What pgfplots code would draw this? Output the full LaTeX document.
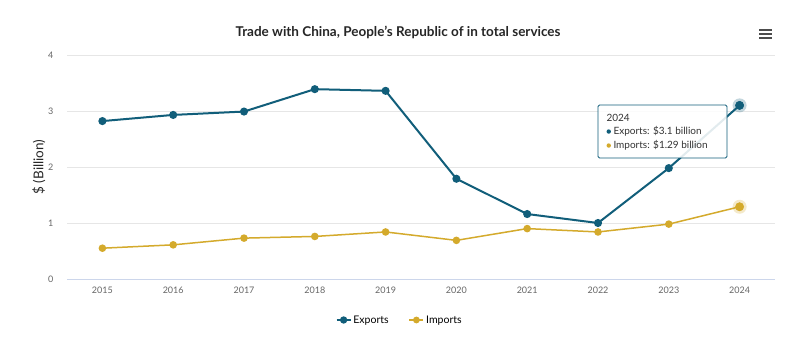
\documentclass[border=0pt]{standalone}
\usepackage{fontspec}
\setmainfont{Lato}
\usepackage{pgfplots}
\pgfplotsset{compat=1.18}
\definecolor{expc}{HTML}{115E7A}
\definecolor{impc}{HTML}{D4AA2C}
\definecolor{gridc}{HTML}{E6E6E6}
\definecolor{tickc}{HTML}{666666}
\definecolor{axc}{HTML}{CCD6EB}
\begin{document}
\begin{tikzpicture}[x=1pt,y=1pt]
\fill[white] (0,0) rectangle (800,356);
\node[font=\bfseries\fontsize{13.5}{15}\selectfont, text=black!85] at (398,324) {Trade with China, People's Republic of in total services};
\foreach \yy in {318,322,326}{\fill[black!70] (759,\yy-0.9) rectangle (772,\yy+0.9);}
\begin{axis}[
  at={(67pt,77pt)}, anchor=south west,
  width=708pt, height=224pt, scale only axis,
  xmin=-0.5, xmax=9.5, ymin=0, ymax=4,
  xtick={0,...,9},
  xticklabels={2015,2016,2017,2018,2019,2020,2021,2022,2023,2024},
  ytick={0,1,2,3,4},
  /pgf/number format/assume math mode=true,
  ticklabel style={font=\fontsize{9}{10}\selectfont, text=tickc},
  major tick length=0pt,
  ymajorgrids, grid style={gridc, line width=0.8pt},
  axis x line*=bottom, axis y line*=left,
  x axis line style={axc, line width=0.8pt, -},
  y axis line style={draw=none},
  xticklabel style={yshift=-4pt},
  yticklabel style={xshift=-10pt},
  ylabel={\$ (Billion)},
  ylabel style={font=\fontsize{13.5}{15}\selectfont, text=black!85, yshift=-4pt},
  legend style={at={(0.47,-0.183)}, anchor=center, draw=none, legend columns=2,
    font=\fontsize{10.5}{12}\selectfont, /tikz/every even column/.append style={column sep=18pt}},
  legend image code/.code={\draw[#1, line width=1.5pt] (0pt,0pt) -- (14pt,0pt); \fill[#1] (7pt,0pt) circle (2.6pt);},
  clip=false,
]
\addplot[expc, line width=2pt, mark=*, mark size=3pt] coordinates {
(0,2.82) (1,2.93) (2,2.99) (3,3.39) (4,3.36) (5,1.79) (6,1.16) (7,1.00) (8,1.98) (9,3.10)};
\addlegendentry{Exports}
\addplot[impc, line width=1.5pt, mark=*, mark size=3pt] coordinates {
(0,0.55) (1,0.61) (2,0.73) (3,0.76) (4,0.84) (5,0.69) (6,0.90) (7,0.84) (8,0.98) (9,1.29)};
\addlegendentry{Imports}
\addplot[forget plot, only marks, mark=*, mark size=7pt, expc, mark options={fill opacity=0.25, draw opacity=0}] coordinates {(9,3.10)};
\addplot[forget plot, only marks, mark=*, mark size=7pt, impc, mark options={fill opacity=0.25, draw opacity=0}] coordinates {(9,1.29)};
\addplot[forget plot, only marks, mark=*, mark size=4.2pt, expc] coordinates {(9,3.10)};
\addplot[forget plot, only marks, mark=*, mark size=4.2pt, impc] coordinates {(9,1.29)};
\end{axis}
\draw[expc, line width=0.8pt, rounded corners=1.5pt, fill=white, fill opacity=0.88] (598,198) rectangle (727,251);
\node[anchor=west, font=\fontsize{10}{11}\selectfont, text=black!80] at (603,238) {2024};
\node[anchor=west, font=\fontsize{10}{11}\selectfont, text=black!80] at (603,225) {\textcolor{expc}{\raisebox{0.5pt}{\tikz\fill (0,0) circle (2.2pt);}}\ Exports: \$3.1 billion};
\node[anchor=west, font=\fontsize{10}{11}\selectfont, text=black!80] at (603,211) {\textcolor{impc}{\raisebox{0.5pt}{\tikz\fill (0,0) circle (2.2pt);}}\ Imports: \$1.29 billion};
\end{tikzpicture}
\end{document}
